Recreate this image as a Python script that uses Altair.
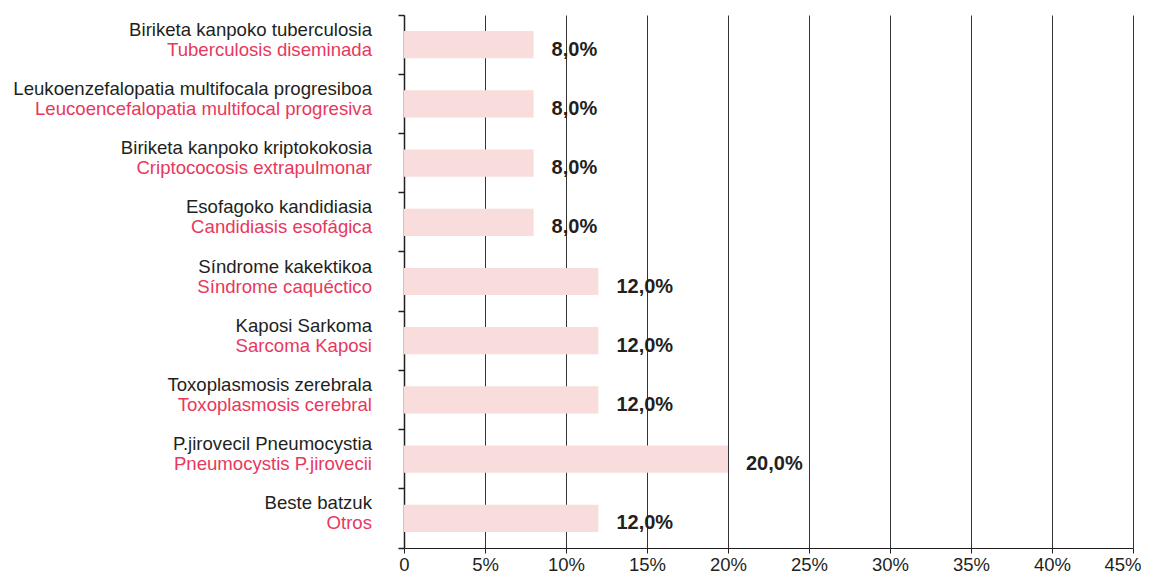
import altair as alt
import pandas as pd

eus = [
    "Biriketa kanpoko tuberculosia",
    "Leukoenzefalopatia multifocala progresiboa",
    "Biriketa kanpoko kriptokokosia",
    "Esofagoko kandidiasia",
    "Síndrome kakektikoa",
    "Kaposi Sarkoma",
    "Toxoplasmosis zerebrala",
    "P.jirovecil Pneumocystia",
    "Beste batzuk",
]
es = [
    "Tuberculosis diseminada",
    "Leucoencefalopatia multifocal progresiva",
    "Criptococosis extrapulmonar",
    "Candidiasis esofágica",
    "Síndrome caquéctico",
    "Sarcoma Kaposi",
    "Toxoplasmosis cerebral",
    "Pneumocystis P.jirovecii",
    "Otros",
]
values = [8.0, 8.0, 8.0, 8.0, 12.0, 12.0, 12.0, 20.0, 12.0]
x_ticks = [0, 5, 10, 15, 20, 25, 30, 35, 40, 45]

df = pd.DataFrame({
    "eus": eus,
    "es": es,
    "value": values,
    "label": [f"{v:.1f}".replace(".", ",") + "%" for v in values],
})

FONT = "Liberation Sans"
DARK = "#231F20"
RED = "#E8385D"
PINK = "#F9DCDC"

yscale = alt.Scale(domain=eus, paddingInner=0, paddingOuter=0)
yaxis = alt.Axis(
    labels=False,
    title=None,
    grid=False,
    ticks=True,
    bandPosition=1,
    tickExtra=True,
    tickSize=6,
    tickWidth=1.5,
    tickColor=DARK,
    domain=True,
    domainColor=DARK,
    domainWidth=1.5,
)
xscale = alt.Scale(domain=[0, 45], nice=False)
xaxis = alt.Axis(
    values=x_ticks,
    labelExpr="datum.value == 0 ? '0' : datum.value + '%'",
    title=None,
    grid=True,
    gridColor="#333333",
    gridWidth=1,
    domain=True,
    domainColor=DARK,
    ticks=True,
    tickColor=DARK,
    tickSize=5,
    tickWidth=1,
    labelFlush=False,
    labelAlign={"condition": {"test": "datum.value == 45", "value": "right"}, "value": "center"},
    labelOffset={"condition": {"test": "datum.value == 45", "value": 8}, "value": 0},
    labelFontSize=18.5,
    labelFont=FONT,
    labelColor=DARK,
    labelPadding=2,
)

Y = alt.Y("eus:N", sort=eus, scale=yscale, axis=yaxis)

base = alt.Chart(df)

bars = base.mark_bar(color=PINK, height={"band": 0.46}).encode(
    x=alt.X("value:Q", scale=xscale, axis=xaxis),
    y=Y,
)

vals = base.mark_text(
    align="left", baseline="middle", dx=18, dy=5,
    font=FONT, fontSize=20, fontWeight="bold", color=DARK,
).encode(
    x=alt.X("value:Q", scale=xscale, axis=xaxis),
    y=Y,
    text="label:N",
)

lab_eus = base.mark_text(
    align="right", baseline="middle", dy=-15,
    font=FONT, fontSize=18.6, color=DARK,
).encode(
    x=alt.value(-32),
    y=Y,
    text="eus:N",
)

lab_es = base.mark_text(
    align="right", baseline="middle", dy=5,
    font=FONT, fontSize=18.6, color=RED,
).encode(
    x=alt.value(-32),
    y=Y,
    text="es:N",
)

chart = alt.layer(bars, vals, lab_eus, lab_es).properties(
    width=729,
    height=533,
    background="white",
    padding={"left": 5, "top": 6, "right": 0, "bottom": 0},
).configure_view(stroke=None)

chart.save("out.html", embed_options={"renderer": "svg", "actions": False})
